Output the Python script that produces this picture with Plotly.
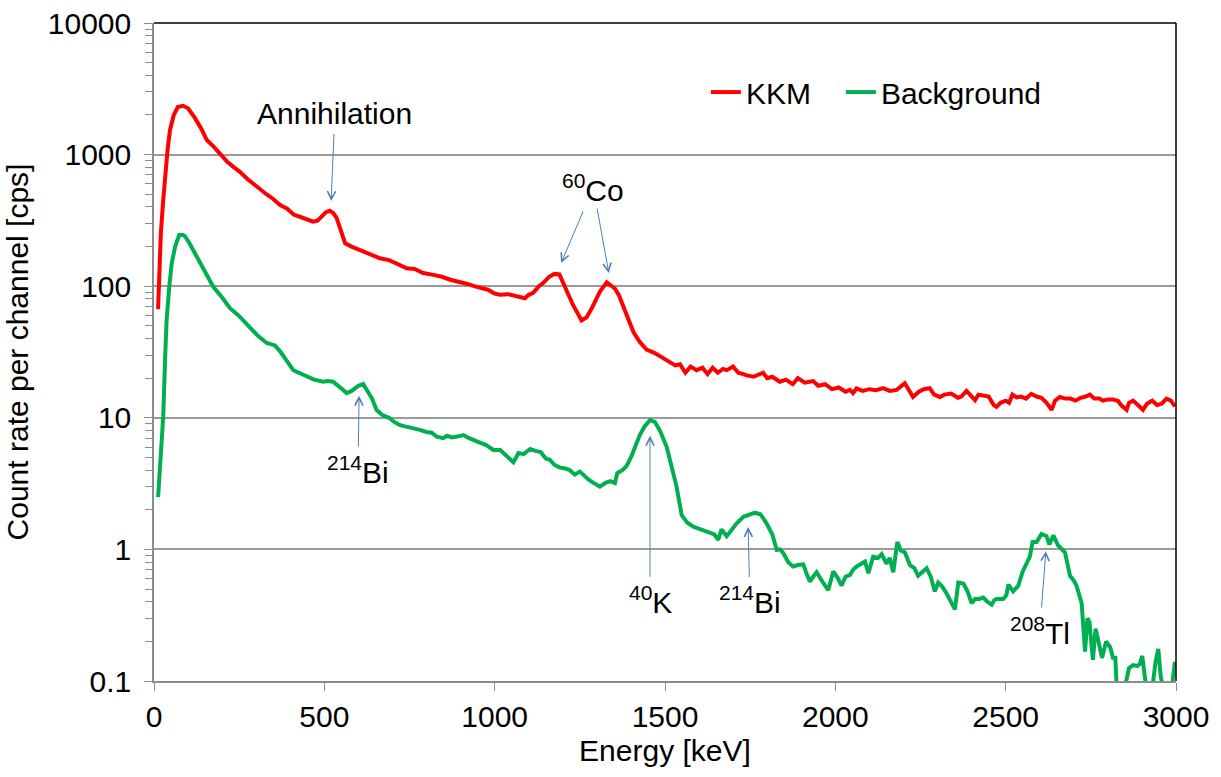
import math
import plotly.graph_objects as go

# ---------------- data ----------------
kkm_energy = [12, 20, 27, 33, 40, 47, 58, 70, 85, 100, 120, 140, 155, 175, 194, 215, 235, 252, 275, 301,
              330, 350, 370, 390, 410, 428, 450, 467, 480, 492, 505, 516, 526, 536, 548, 561, 580, 605, 630, 663,
              690, 710, 742, 765, 790, 820, 845, 870, 898, 920, 940, 957, 980, 1000, 1016, 1040, 1060, 1089, 1100, 1113,
              1130, 1143, 1160, 1175, 1190, 1200, 1211, 1230, 1255, 1270, 1285, 1295, 1310, 1329, 1345, 1353, 1365, 1378, 1395, 1407,
              1425, 1446, 1470, 1490, 1510, 1530, 1544, 1560, 1575, 1593, 1610, 1625, 1640, 1655, 1670, 1681, 1700, 1715, 1730, 1740,
              1760, 1788, 1800, 1815, 1837, 1855, 1875, 1890, 1910, 1935, 1950, 1970, 1990, 2010, 2030, 2043, 2052, 2062, 2080, 2100,
              2120, 2140, 2160, 2180, 2204, 2215, 2228, 2245, 2260, 2277, 2290, 2307, 2320, 2340, 2360, 2370, 2385, 2395, 2410, 2420,
              2435, 2450, 2465, 2473, 2485, 2500, 2510, 2520, 2532, 2545, 2560, 2575, 2591, 2605, 2620, 2635, 2645, 2659, 2675, 2690,
              2705, 2720, 2735, 2747, 2760, 2775, 2786, 2800, 2815, 2830, 2840, 2855, 2862, 2874, 2888, 2903, 2915, 2930, 2945, 2958,
              2972, 2985, 2997]
kkm_rate = [67, 250, 450, 700, 1100, 1540, 2000, 2300, 2350, 2250, 1900, 1550, 1290, 1150, 1000, 880, 800, 740, 650, 570,
            500, 460, 414, 390, 350, 337, 320, 309, 315, 337, 365, 375, 360, 330, 260, 212, 200, 188, 175, 163,
            158, 150, 137, 135, 126, 122, 118, 112, 108, 104, 100, 98, 94, 88, 86, 87, 85, 81, 86, 89,
            100, 106, 118, 124, 123, 108, 91, 72, 55, 58, 68, 78, 92, 107, 100, 96, 85, 70, 55, 45,
            38, 33, 31, 29, 27, 25, 25.5, 22, 24.5, 23, 24, 21.5, 24, 22, 23.5, 23, 24.5, 22, 21.5, 21,
            20.5, 22, 20, 20.5, 18.8, 19.5, 18, 20, 18.5, 19, 17.5, 18, 16.5, 17, 15.8, 16.3, 15.4, 16.7, 16, 16.5,
            16.2, 16.8, 16, 16.3, 18.3, 16.5, 14.4, 15.8, 16.5, 16.8, 15, 14.4, 15, 15.3, 14.2, 14.5, 16, 15, 13.6, 15,
            14.8, 14.5, 12.5, 12.1, 13, 13.5, 13, 15, 14.3, 14.5, 14, 15.2, 14.5, 14.2, 13, 11.5, 13.5, 14.4, 14, 14,
            13.5, 14.2, 14.5, 15, 14, 14, 13.5, 13.8, 13.8, 13.4, 12.4, 11.5, 13, 13.5, 12.5, 11.5, 12.8, 13.5, 12.5, 12.8,
            14, 13.5, 12.2]

bg_energy = [12, 20, 27, 33, 37, 45, 52, 62, 74, 85, 91, 105, 125, 150, 174, 200, 223, 248, 265, 282,
             305, 331, 345, 355, 370, 390, 409, 425, 448, 470, 497, 510, 526, 540, 555, 566, 580, 600, 614, 625,
             640, 653, 670, 690, 705, 722, 740, 760, 780, 800, 815, 830, 849, 860, 875, 890, 908, 925, 940, 955,
             975, 996, 1016, 1030, 1040, 1055, 1070, 1085, 1104, 1120, 1135, 1150, 1162, 1175, 1190, 1210, 1221, 1235, 1250, 1260,
             1275, 1290, 1309, 1325, 1340, 1353, 1360, 1375, 1387, 1400, 1415, 1426, 1440, 1456, 1470, 1485, 1505, 1520, 1534, 1549,
             1565, 1583, 1600, 1620, 1632, 1645, 1656, 1666, 1681, 1695, 1710, 1730, 1745, 1764, 1780, 1798, 1815, 1828, 1838, 1847,
             1862, 1876, 1890, 1906, 1915, 1925, 1935, 1945, 1960, 1979, 1994, 2008, 2018, 2030, 2043, 2052, 2062, 2075, 2087, 2097,
             2111, 2125, 2136, 2150, 2160, 2170, 2182, 2192, 2204, 2219, 2232, 2243, 2255, 2268, 2280, 2292, 2302, 2312, 2325, 2340,
             2351, 2361, 2376, 2388, 2400, 2410, 2422, 2434, 2446, 2459, 2466, 2473, 2493, 2502, 2508, 2522, 2537, 2550, 2563, 2571,
             2579, 2591, 2605, 2612, 2620, 2628, 2640, 2654, 2665, 2674, 2689, 2700, 2708, 2723, 2733, 2740, 2746, 2752, 2756, 2764,
             2770, 2776, 2783, 2795, 2807, 2815, 2822, 2826, 2840, 2852, 2862, 2874, 2886, 2894, 2901, 2908, 2913, 2925, 2933, 2940,
             2948, 2955, 2963, 2975, 2982, 2990, 2997]
bg_rate = [2.5, 5, 10.2, 30, 55, 100, 149, 200, 245, 245, 240, 210, 168, 128, 99, 82, 68, 60, 54, 48,
           42, 37, 36, 35.5, 32, 27, 23, 22, 20.5, 19.5, 18.8, 19, 18.8, 17.5, 16, 15.4, 16, 17.5, 18.1, 16,
           14, 11.5, 10.5, 10, 9.3, 8.8, 8.6, 8.3, 8.1, 7.8, 7.7, 7.2, 7.0, 7.3, 7.1, 7.2, 7.4, 7.0, 6.8, 6.5,
           6.2, 5.7, 5.7, 5.2, 5.0, 4.6, 5.4, 5.3, 5.8, 5.6, 5.5, 4.9, 4.8, 4.4, 4.2, 4.1, 4.0, 3.7, 3.9, 3.7,
           3.4, 3.2, 3.0, 3.2, 3.3, 3.2, 3.8, 4.0, 4.3, 5.0, 6.3, 7.4, 8.6, 9.6, 9.3, 8.0, 6.0, 4.2, 3.0, 1.82,
           1.6, 1.49, 1.43, 1.38, 1.32, 1.3, 1.18, 1.42, 1.26, 1.4, 1.57, 1.77, 1.82, 1.9, 1.85, 1.58, 1.3, 0.99, 1.0, 0.94,
           0.8, 0.74, 0.76, 0.77, 0.66, 0.57, 0.62, 0.67, 0.58, 0.49, 0.68, 0.6, 0.53, 0.62, 0.64, 0.7, 0.74, 0.78, 0.81, 0.66,
           0.88, 0.86, 0.92, 0.78, 0.86, 0.67, 1.14, 0.98, 0.95, 0.76, 0.72, 0.63, 0.67, 0.72, 0.62, 0.48, 0.56, 0.53, 0.47, 0.4,
           0.35, 0.56, 0.55, 0.48, 0.39, 0.42, 0.42, 0.43, 0.4, 0.38, 0.41, 0.42, 0.42, 0.45, 0.54, 0.48, 0.53, 0.68, 0.82, 0.88,
           1.14, 1.14, 1.31, 1.28, 1.26, 1.09, 1.28, 1.07, 1.0, 0.95, 0.63, 0.58, 0.53, 0.39, 0.167, 0.3, 0.28, 0.2, 0.145, 0.25,
           0.21, 0.17, 0.15, 0.2, 0.18, 0.15, 0.15, 0.09, 0.08, 0.095, 0.125, 0.132, 0.13, 0.135, 0.155, 0.11, 0.09, 0.085, 0.1, 0.14,
           0.175, 0.11, 0.085, 0.08, 0.08, 0.1, 0.14]

y_tick_values = [0.1, 1, 10, 100, 1000, 10000]
y_tick_labels = ["0.1", "1", "10", "100", "1000", "10000"]
x_tick_values = [0, 500, 1000, 1500, 2000, 2500, 3000]

# peak labels: text placed at (label_x, label_y), arrow pointing to (tip_x, tip_y)
label_texts = ["Annihilation", "<sup>60</sup>Co", "<sup>214</sup>Bi", "<sup>40</sup>K", "<sup>214</sup>Bi", "<sup>208</sup>Tl"]
label_x = [531, 1289, 599, 1456, 1749, 2600]
label_y = [2070, 557, 4.0, 0.41, 0.41, 0.24]
tip_x = [520, 1195, 602, 1456, 1744, 2618]
tip_y = [444, 150, 14.7, 7.3, 1.48, 0.97]
# second 60Co arrow (tail just below the 60Co label)
extra_tail_x = [1300]
extra_tail_y = [400]
extra_tip_x = [1335]
extra_tip_y = [126]

FONT = "Liberation Sans, Arial, sans-serif"
FS = 30
ARROW_COLOR = "#4a7ebb"

fig = go.Figure()
fig.add_trace(go.Scatter(x=kkm_energy, y=kkm_rate, mode="lines", name="KKM\u00a0\u00a0\u00a0",
                         line=dict(color="#ff0000", width=4)))
fig.add_trace(go.Scatter(x=bg_energy, y=bg_rate, mode="lines", name="Background",
                         line=dict(color="#00b050", width=4)))

annotations = []
for t, lx, ly, hx, hy in zip(label_texts, label_x, label_y, tip_x, tip_y):
    annotations.append(dict(x=hx, y=math.log10(hy), xref="x", yref="y",
                            ax=lx, ay=math.log10(ly), axref="x", ayref="y",
                            text=t, showarrow=True, arrowhead=5, arrowsize=1.6, arrowwidth=1,
                            arrowcolor=ARROW_COLOR, standoff=0, startstandoff=3,
                            font=dict(family=FONT, size=FS, color="black")))
for tx, ty, hx, hy in zip(extra_tail_x, extra_tail_y, extra_tip_x, extra_tip_y):
    annotations.append(dict(x=hx, y=math.log10(hy), xref="x", yref="y",
                            ax=tx, ay=math.log10(ty), axref="x", ayref="y",
                            text="", showarrow=True, arrowhead=5, arrowsize=1.6, arrowwidth=1,
                            arrowcolor=ARROW_COLOR, standoff=0, startstandoff=0))

fig.update_layout(
    width=1221, height=777,
    margin=dict(l=154, r=45, t=23, b=96),
    paper_bgcolor="white", plot_bgcolor="white",
    font=dict(family=FONT, size=FS, color="black"),
    showlegend=True,
    legend=dict(orientation="h", x=0.54, y=0.895, xanchor="left", yanchor="middle",
                font=dict(family=FONT, size=FS, color="black"), bgcolor="rgba(0,0,0,0)",
                itemwidth=30, tracegroupgap=0),
    annotations=annotations,
    shapes=[
        dict(type="line", xref="paper", yref="paper", x0=0, x1=1, y0=1, y1=1,
             line=dict(color="black", width=1.5)),
        dict(type="line", xref="paper", yref="paper", x0=1, x1=1, y0=0, y1=1,
             line=dict(color="black", width=1.5)),
    ],
)

fig.update_xaxes(range=[0, 3000], tickvals=x_tick_values, ticks="outside", ticklen=8,
                 tickcolor="#8c8c8c", showline=True, linecolor="#8c8c8c", linewidth=1.5,
                 showgrid=False, zeroline=False, automargin=False, ticklabelstandoff=0,
                 title=dict(text="Energy [keV]", font=dict(family=FONT, size=FS), standoff=8),
                 tickfont=dict(family=FONT, size=FS))
fig.update_yaxes(type="log", range=[-1, 4], tickvals=y_tick_values, ticktext=y_tick_labels,
                 ticks="outside", ticklen=8, tickcolor="#8c8c8c", ticklabelstandoff=7,
                 showline=True, linecolor="#8c8c8c", linewidth=1.5,
                 showgrid=True, gridcolor="#9a9a9a", gridwidth=1.5, zeroline=False, automargin=False,
                 minor=dict(ticks="outside", ticklen=7, tickcolor="#8c8c8c", showgrid=False, dtick="D1"),
                 title=dict(text="Count rate per channel [cps]", font=dict(family=FONT, size=FS), standoff=10),
                 tickfont=dict(family=FONT, size=FS))

fig.write_html("out.html")
